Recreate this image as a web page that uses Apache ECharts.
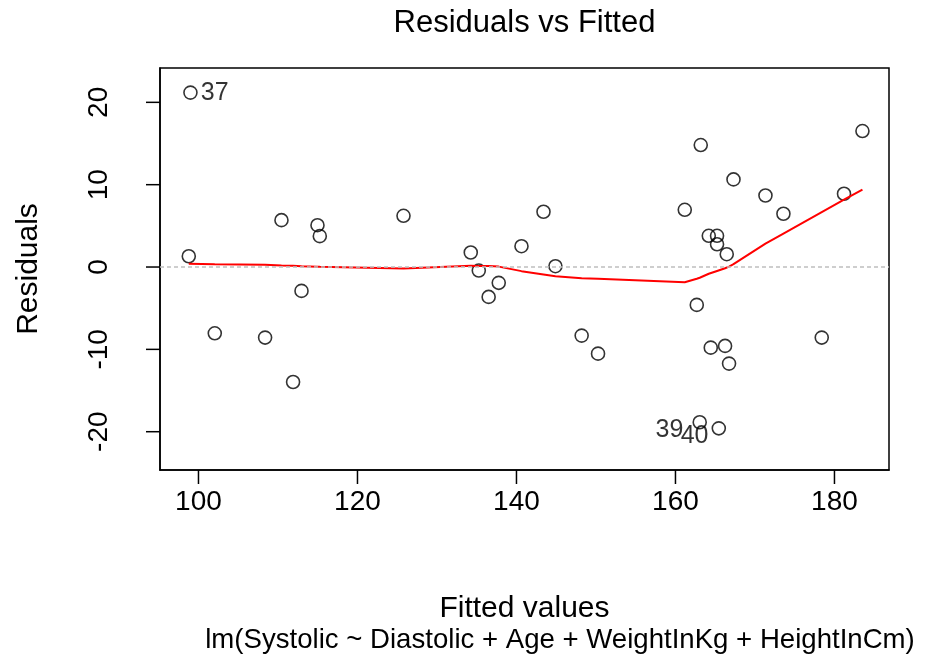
<!DOCTYPE html>
<html>
<head>
<meta charset="utf-8">
<script src="https://cdn.jsdelivr.net/npm/echarts@6/dist/echarts.min.js"></script>
<style>
html,body{margin:0;padding:0;background:#fff;}
#chart{width:930px;height:666px;}
</style>
</head>
<body>
<div id="chart"></div>
<script>
// Data
const fitted = [98.99, 98.78, 110.44, 114.97, 115.26, 125.79, 112.96, 102.05, 108.38, 111.90,
  143.40, 140.63, 134.25, 144.90, 135.26, 137.77, 136.50, 148.20, 150.26,
  163.18, 183.52, 167.30, 161.17, 171.32, 173.58, 181.20, 164.19, 165.23, 165.23, 166.45,
  162.68, 164.44, 166.24, 166.74, 178.40, 163.05, 165.45];
const residuals = [21.18, 1.31, 5.69, 5.08, 3.75, 6.22, -2.90, -8.05, -8.57, -13.96,
  6.71, 2.53, 1.76, 0.10, -0.43, -1.92, -3.63, -8.33, -10.52,
  14.81, 16.51, 10.64, 6.95, 8.69, 6.47, 8.90, 3.79, 3.79, 2.77, 1.56,
  -4.60, -9.79, -9.58, -11.73, -8.57, -18.85, -19.59];
const pointIds = ['37', '', '', '', '', '', '', '', '', '',
  '', '', '', '', '', '', '', '', '',
  '', '', '', '', '', '', '', '', '', '', '',
  '', '', '', '', '', '39', '40'];

const smoothX = [98.78, 98.99, 102.05, 108.38, 110.44, 111.90, 112.96, 114.97, 115.26, 125.79,
  134.25, 135.26, 136.50, 137.77, 140.63, 143.40, 144.90, 148.20, 150.26, 161.17,
  162.68, 163.05, 163.18, 164.19, 164.44, 165.23, 165.45, 166.24, 166.45, 166.74,
  167.30, 171.32, 173.58, 178.40, 181.20, 183.52];
const smoothY = [0.40, 0.40, 0.35, 0.28, 0.20, 0.15, 0.10, 0.04, 0.02, -0.18,
  0.14, 0.13, 0.11, 0.05, -0.50, -0.90, -1.12, -1.35, -1.42, -1.85,
  -1.42, -1.30, -1.18, -0.82, -0.72, -0.48, -0.40, -0.15, -0.05, 0.05,
  0.35, 2.85, 4.07, 6.67, 8.18, 9.40];

const xTicks = [100, 120, 140, 160, 180];
const yTicks = [-20, -10, 0, 10, 20];

const titleText = 'Residuals vs Fitted';
const xName = 'Fitted values';
const yName = 'Residuals';
const subCaption = 'lm(Systolic ~ Diastolic + Age + WeightInKg + HeightInCm)';

const X_MIN = 95.16, X_MAX = 186.86;
const Y_MIN = -24.65, Y_MAX = 24.17;
const FONT = '"Liberation Sans", Arial, sans-serif';
const TICK_LEN = 14;

const pointData = fitted.map((x, i) => {
  const item = { value: [x, residuals[i]] };
  const id = pointIds[i];
  if (id) {
    const right = x < (Math.min(...fitted) + Math.max(...fitted)) / 2;
    item.label = {
      show: true,
      formatter: id,
      position: right ? 'right' : 'left',
      distance: 3,
      offset: id === '39' ? [-6, 8] : (id === '40' ? [0, 8] : [0, 0]),
      fontSize: 25,
      fontFamily: FONT,
      color: '#000'
    };
  }
  return item;
});

const axisLineStyle = { color: '#000', width: 1.5 };

function tickRenderer(dx, dy) {
  return function (params, api) {
    const p = api.coord([api.value(0), api.value(1)]);
    return {
      type: 'line',
      shape: { x1: p[0], y1: p[1], x2: p[0] + dx, y2: p[1] + dy },
      style: { stroke: '#000', lineWidth: 1.5 }
    };
  };
}

const chart = echarts.init(document.getElementById('chart'), null, { renderer: 'canvas' });
chart.setOption({
  animation: false,
  backgroundColor: '#fff',
  grid: {
    left: 160, right: 41, top: 68, bottom: 196,
    show: true, borderColor: '#000', borderWidth: 1.5, backgroundColor: 'transparent'
  },
  graphic: [
    { type: 'text', x: 524.5, y: 23,
      style: { text: titleText, font: '31px ' + FONT, fill: '#000', align: 'center', verticalAlign: 'middle' } },
    { type: 'text', x: 560, y: 640,
      style: { text: subCaption, font: '27.6px ' + FONT, fill: '#000', align: 'center', verticalAlign: 'middle' } }
  ],
  xAxis: {
    type: 'value', min: X_MIN, max: X_MAX,
    name: xName, nameLocation: 'middle', nameGap: 124,
    nameTextStyle: { fontSize: 30, fontFamily: FONT, color: '#000' },
    axisLine: { show: true, onZero: false, lineStyle: axisLineStyle },
    splitLine: { show: false },
    axisTick: { show: false },
    axisLabel: { customValues: xTicks, fontSize: 28, fontFamily: FONT, color: '#000', margin: 18 }
  },
  yAxis: {
    type: 'value', min: Y_MIN, max: Y_MAX,
    name: yName, nameLocation: 'middle', nameRotate: 90, nameGap: 116,
    nameTextStyle: { fontSize: 30, fontFamily: FONT, color: '#000' },
    axisLine: { show: true, onZero: false, lineStyle: axisLineStyle },
    splitLine: { show: false },
    axisTick: { show: false },
    axisLabel: { customValues: yTicks, rotate: 90, fontSize: 28, fontFamily: FONT, color: '#000', margin: 47 }
  },
  series: [
    {
      type: 'custom',
      silent: true,
      clip: false,
      data: xTicks.map(v => [v, Y_MIN]),
      renderItem: tickRenderer(0, TICK_LEN),
      z: 1
    },
    {
      type: 'custom',
      silent: true,
      clip: false,
      data: yTicks.map(v => [X_MIN, v]),
      renderItem: tickRenderer(-TICK_LEN, 0),
      z: 1
    },
    {
      type: 'scatter',
      data: pointData,
      symbol: 'circle',
      symbolSize: 13,
      itemStyle: { color: 'rgba(0,0,0,0)', borderColor: '#000', borderWidth: 1.6 },
      z: 2
    },
    {
      type: 'line',
      data: smoothX.map((x, i) => [x, smoothY[i]]),
      showSymbol: false,
      lineStyle: { color: '#ff0000', width: 2 },
      z: 3
    },
    {
      type: 'line',
      data: [],
      markLine: {
        silent: true,
        symbol: ['none', 'none'],
        label: { show: false },
        lineStyle: { color: '#bebebe', width: 1.6, type: [4, 3] },
        data: [{ yAxis: 0 }]
      },
      z: 4
    }
  ]
});
</script>
</body>
</html>
